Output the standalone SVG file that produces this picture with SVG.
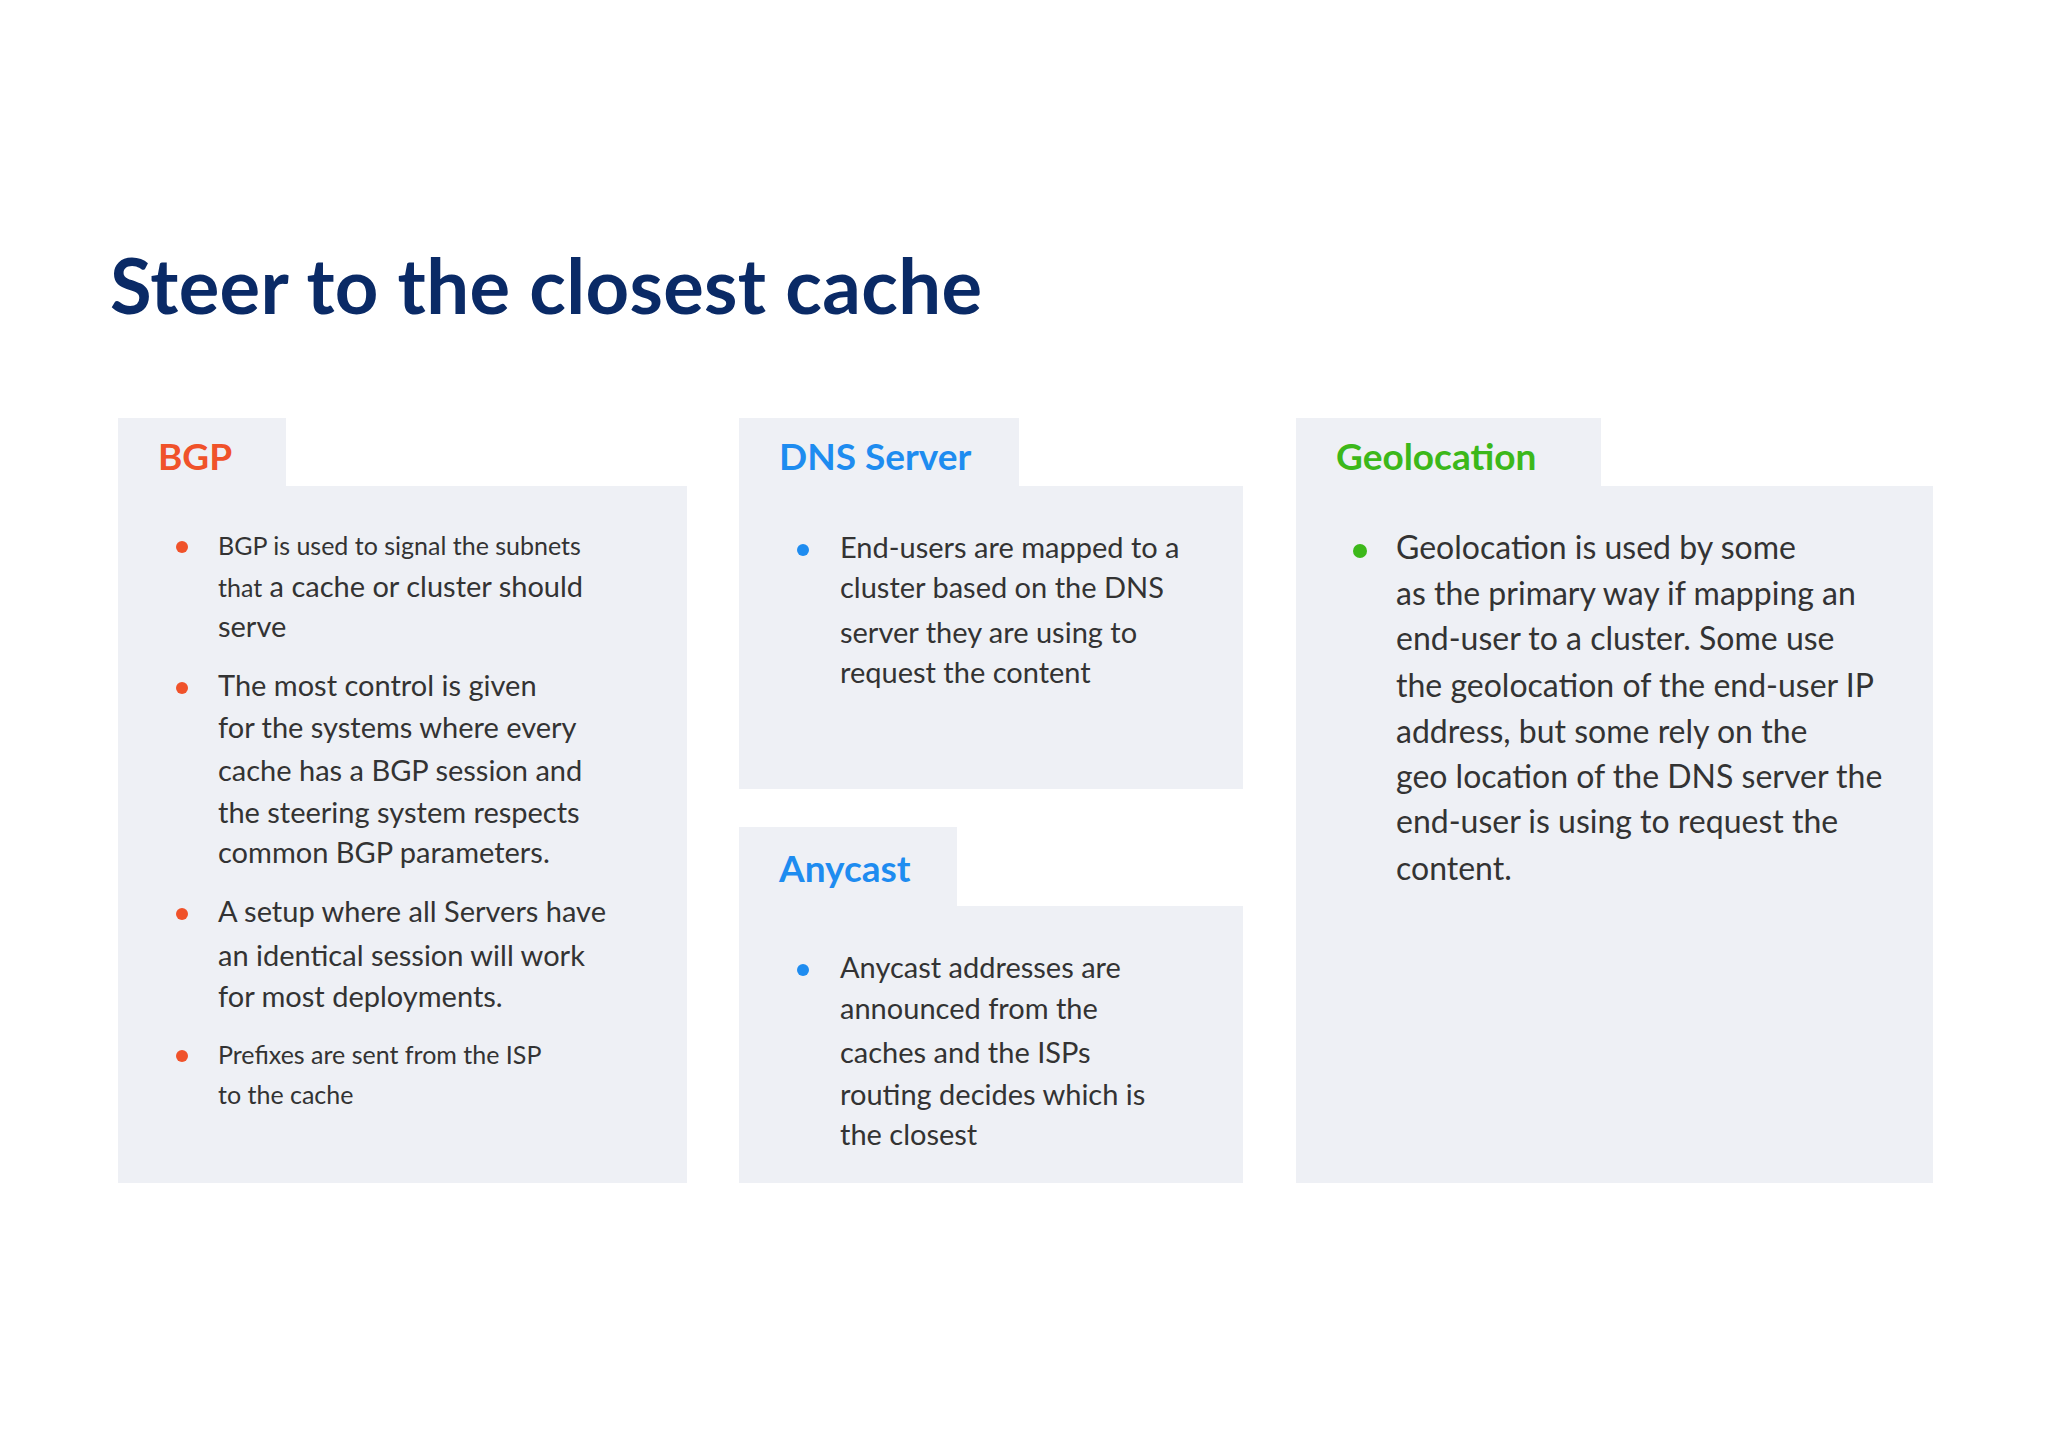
<svg xmlns="http://www.w3.org/2000/svg" width="2048" height="1448" viewBox="0 0 2048 1448">
<style>
.box{fill:#eef0f5}
.hd{font-family:Lato,"Noto Sans",sans-serif;font-weight:700;font-size:37px}
.t{font-family:Lato,"Noto Sans",sans-serif;font-size:29px;fill:#333}
.s{font-size:25px}
.g{font-size:32px}
</style>
<rect width="2048" height="1448" fill="#fff"/>
<text x="110" y="314" font-family="Lato,'Noto Sans',sans-serif" font-weight="700" font-size="76" fill="#0a2a66" textLength="872">Steer to the closest cache</text>
<g id="bgp">
<rect class="box" x="118" y="418" width="168" height="70"/>
<rect class="box" x="118" y="486" width="569" height="697"/>
<text class="hd" x="158" y="470" fill="#f0522a">BGP</text>
<g fill="#f0522a"><circle cx="182" cy="547" r="6"/><circle cx="182" cy="688" r="6"/><circle cx="182" cy="914" r="6"/><circle cx="182" cy="1056" r="6"/></g>
<text class="t s" x="218" y="555">BGP is used to signal the subnets</text>
<text class="t" x="218" y="597"><tspan class="s">that</tspan> a cache or cluster should</text>
<text class="t" x="218" y="637">serve</text>
<text class="t" x="218" y="696">The most control is given</text>
<text class="t" x="218" y="738">for the systems where every</text>
<text class="t" x="218" y="781">cache has a BGP session and</text>
<text class="t" x="218" y="823">the steering system respects</text>
<text class="t" x="218" y="863">common BGP parameters.</text>
<text class="t" x="218" y="922">A setup where all Servers have</text>
<text class="t" x="218" y="966">an identical session will work</text>
<text class="t" x="218" y="1007">for most deployments.</text>
<text class="t s" x="218" y="1064">Prefixes are sent from the ISP</text>
<text class="t s" x="218" y="1104">to the cache</text>
</g>
<g id="dns">
<rect class="box" x="739" y="418" width="280" height="70"/>
<rect class="box" x="739" y="486" width="504" height="303"/>
<text class="hd" x="779" y="470" fill="#1e8cf0">DNS Server</text>
<circle cx="803" cy="550" r="6" fill="#1e8cf0"/>
<text class="t" x="840" y="558">End-users are mapped to a</text>
<text class="t" x="840" y="598">cluster based on the DNS</text>
<text class="t" x="840" y="643">server they are using to</text>
<text class="t" x="840" y="683">request the content</text>
</g>
<g id="anycast">
<rect class="box" x="739" y="827" width="218" height="81"/>
<rect class="box" x="739" y="906" width="504" height="277"/>
<text class="hd" x="779" y="882" fill="#1e8cf0">Anycast</text>
<circle cx="803" cy="970" r="6" fill="#1e8cf0"/>
<text class="t" x="840" y="978">Anycast addresses are</text>
<text class="t" x="840" y="1019">announced from the</text>
<text class="t" x="840" y="1063">caches and the ISPs</text>
<text class="t" x="840" y="1105">routing decides which is</text>
<text class="t" x="840" y="1145">the closest</text>
</g>
<g id="geo">
<rect class="box" x="1296" y="418" width="305" height="70"/>
<rect class="box" x="1296" y="486" width="637" height="697"/>
<text class="hd" x="1336" y="470" fill="#3cb81a">Geolocation</text>
<circle cx="1360" cy="551" r="7" fill="#3cb81a"/>
<text class="t g" x="1396" y="559">Geolocation is used by some</text>
<text class="t g" x="1396" y="605">as the primary way if mapping an</text>
<text class="t g" x="1396" y="650">end-user to a cluster.  Some use</text>
<text class="t g" x="1396" y="697">the geolocation of the end-user IP</text>
<text class="t g" x="1396" y="743">address, but some rely on the</text>
<text class="t g" x="1396" y="788">geo location of the DNS server the</text>
<text class="t g" x="1396" y="833">end-user is using to request the</text>
<text class="t g" x="1396" y="880">content.</text>
</g>
</svg>
